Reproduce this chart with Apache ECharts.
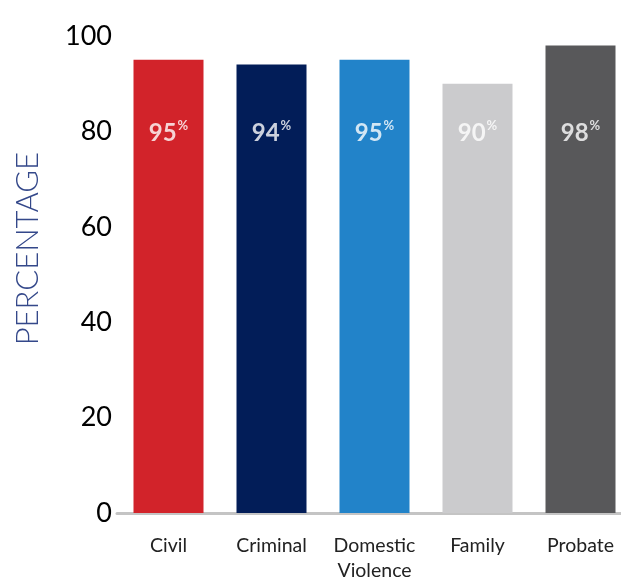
<!DOCTYPE html>
<html><head><meta charset="utf-8">
<script src="https://cdn.jsdelivr.net/npm/echarts@6/dist/echarts.min.js"></script>
<style>html,body{margin:0;padding:0;background:#fff}#c{width:621px;height:581px}</style>
</head><body><div id="c"></div>
<script>
const categories = ['Civil', 'Criminal', 'Domestic\nViolence', 'Family', 'Probate'];
const values = [95, 94, 95, 90, 98];
const colors = ['#d2232a', '#021d58', '#2283c9', '#cbcbcd', '#58585a'];
const yTicks = [0, 20, 40, 60, 80, 100];
const labelLevel = 80;

const chart = echarts.init(document.getElementById('c'));
chart.setOption({
  animation: false,
  grid: { left: 117, width: 515, top: 36, bottom: 68, outerBoundsMode: 'none', containLabel: false },
  xAxis: {
    type: 'category', data: categories,
    axisLine: { lineStyle: { color: '#c4c4c4', width: 3 } },
    axisTick: { show: false },
    axisLabel: { interval: 0, color: '#222', fontFamily: 'Lato', fontSize: 19.5, margin: 20, lineHeight: 25, hideOverlap: false }
  },
  yAxis: {
    type: 'value', min: 0, max: 100, interval: 20,
    splitLine: { show: false }, axisLine: { show: false }, axisTick: { show: false },
    axisLabel: { color: '#000', fontFamily: 'Lato', fontWeight: 'normal', fontSize: 27, margin: 5,
      formatter: v => yTicks.includes(v) ? String(v) : '' }
  },
  graphic: [{
    type: 'text', left: 12, top: 152, rotation: Math.PI / 2,
    style: { text: 'PERCENTAGE', fill: '#34488a', font: '300 31px Lato' }
  }],
  series: [{
    type: 'bar', barWidth: 70,
    data: values.map((v, i) => ({ value: v, itemStyle: { color: colors[i] } })),
    silent: true
  }, {
    type: 'scatter', symbolSize: 0,
    data: categories.map((c, i) => [i, labelLevel]),
    label: {
      show: true, position: 'inside', offset: [0, 2],
      formatter: p => '{v|' + values[p.dataIndex] + '}{p|%}',
      rich: {
        v: { color: '#fff', fontFamily: 'Lato', fontWeight: 'bold', fontSize: 24, lineHeight: 28 },
        p: { color: '#fff', fontFamily: 'Lato', fontWeight: 'bold', fontSize: 13, lineHeight: 28, verticalAlign: 'top', padding: [0, 0, 0, 1] }
      }
    }
  }]
});
</script></body></html>
